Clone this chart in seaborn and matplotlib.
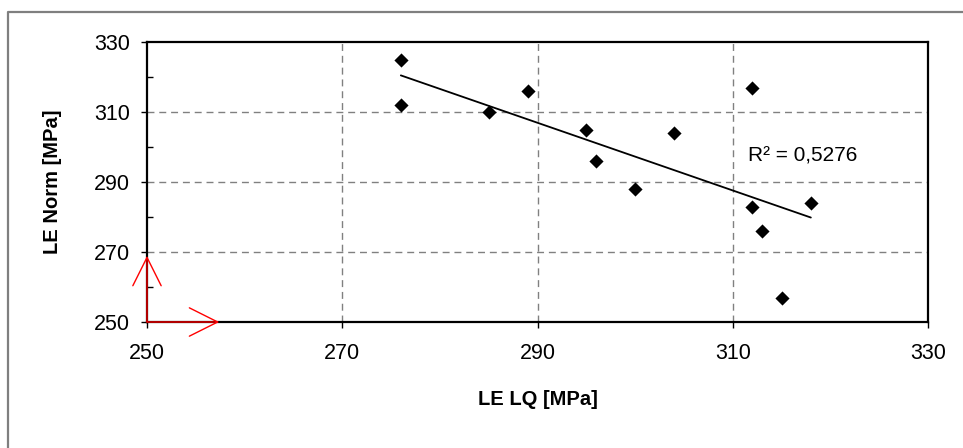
import numpy as np
import pandas as pd
import matplotlib
matplotlib.use("Agg")
import matplotlib.pyplot as plt
from matplotlib.lines import Line2D
from matplotlib.ticker import MultipleLocator
import seaborn as sns

# data
le_lq = [276, 276, 285, 289, 295, 296, 300, 304, 312, 312, 313, 315, 318]
le_norm = [325, 312, 310, 316, 305, 296, 288, 304, 317, 283, 276, 257, 284]
x_ticks = [250, 270, 290, 310, 330]
y_ticks = [250, 270, 290, 310, 330]
r2_label = "R² = 0,5276"

sns.set_theme(style="white")
plt.rcParams['font.family'] = ['Liberation Sans', 'DejaVu Sans']
plt.rcParams['text.color'] = 'black'
plt.rcParams['axes.labelcolor'] = 'black'
plt.rcParams['xtick.color'] = 'black'
plt.rcParams['ytick.color'] = 'black'

df = pd.DataFrame({'LE LQ': le_lq, 'LE Norm': le_norm})

fig = plt.figure(figsize=(9.63, 4.48), dpi=100)
ax = fig.add_axes([147 / 963, 126 / 448, 781 / 963, 280 / 448])

sns.regplot(data=df, x='LE LQ', y='LE Norm', ax=ax, ci=None, truncate=True,
            marker='D', color='black',
            scatter_kws={'s': 52, 'linewidths': 0, 'alpha': 1, 'zorder': 4},
            line_kws={'color': 'black', 'lw': 1.3, 'zorder': 3})

ax.set_xlim(250, 330)
ax.set_ylim(250, 330)
ax.set_xticks(x_ticks)
ax.set_yticks(y_ticks)
ax.yaxis.set_minor_locator(MultipleLocator(10))
ax.tick_params(axis='both', which='major', direction='out', length=4, width=1,
               labelsize=15.5, left=True, bottom=True)
ax.tick_params(axis='x', pad=11)
ax.tick_params(axis='y', pad=8.5)
ax.tick_params(axis='y', which='minor', direction='in', length=4, width=1,
               left=True)

for v in x_ticks[1:-1]:
    ax.axvline(v, color='#808080', lw=1, ls=(0, (5, 3.5)), zorder=1)
for v in y_ticks[1:-1]:
    ax.axhline(v, color='#808080', lw=1, ls=(0, (5, 3.5)), zorder=1)

for s in ax.spines.values():
    s.set_visible(True)
    s.set_color('black')
    s.set_linewidth(1.6)

ax.set_xlabel('LE LQ [MPa]', fontsize=14.5, fontweight='bold', labelpad=19)
ax.set_ylabel('LE Norm [MPa]', fontsize=14.5, fontweight='bold', labelpad=22.5)

ax.text(311.6, 297.5, r2_label, fontsize=15, va='center', ha='left')

# red axis-direction arrows in the corner
arrow = dict(arrowstyle='->,head_length=1.7,head_width=0.85', color='red', lw=1,
             shrinkA=0, shrinkB=0)
ax.annotate('', xy=(257.4, 250), xytext=(250, 250), arrowprops=arrow,
            annotation_clip=False, zorder=6)
ax.annotate('', xy=(250, 268.9), xytext=(250, 250), arrowprops=arrow,
            annotation_clip=False, zorder=6)

# outer chart frame (cut by the image edge on right and bottom)
fig.add_artist(Line2D([7.5 / 963, 7.5 / 963, 1.0], [0.0, 1 - 12 / 448, 1 - 12 / 448],
                      transform=fig.transFigure, color='#7f7f7f', lw=1.6))

fig.savefig('out.png', dpi=100)
